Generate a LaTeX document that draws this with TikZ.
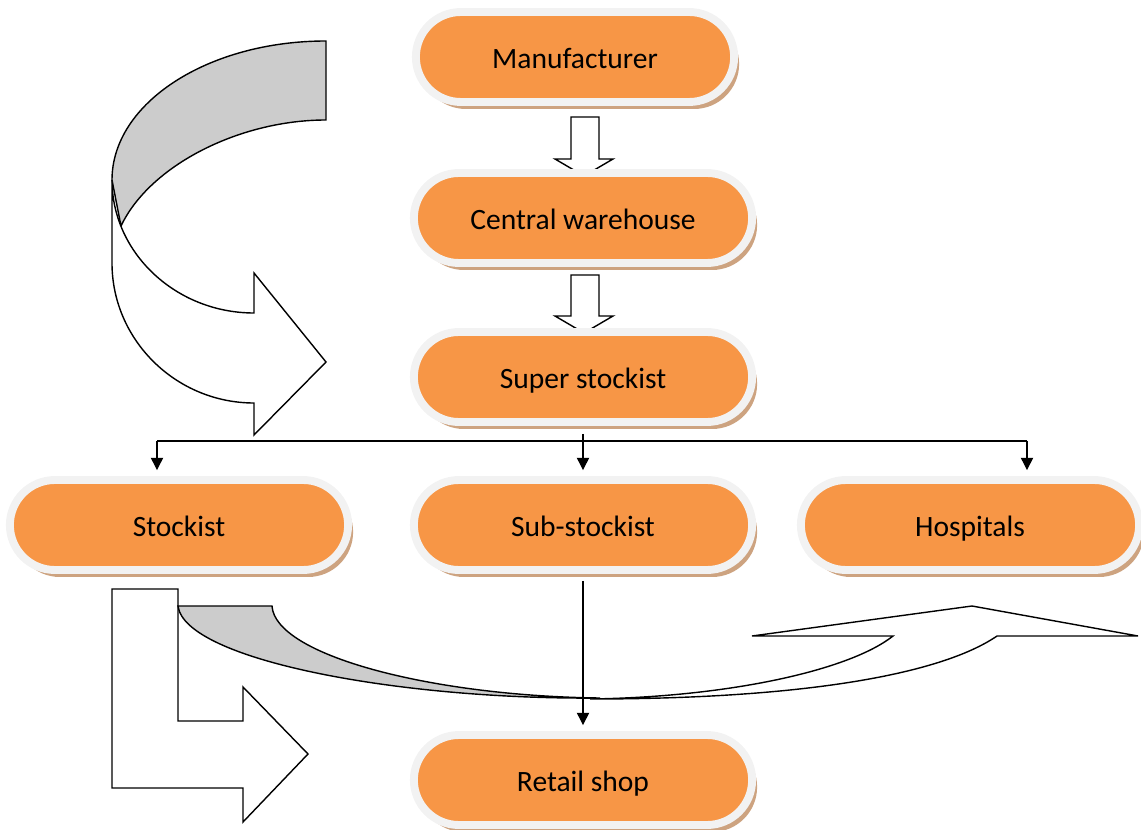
\documentclass[tikz,border=0pt]{standalone}
\usepackage{fontspec}
\setmainfont{Carlito}
\usetikzlibrary{arrows.meta,shapes.misc,shadows}

\definecolor{boxorange}{RGB}{247,150,70}
\definecolor{boxrim}{RGB}{242,242,242}
\definecolor{boxshade}{RGB}{205,163,128}
\definecolor{ribbon}{RGB}{204,204,204}

\tikzset{
  stage/.style={rounded rectangle, fill=boxorange, draw=boxrim, line width=4.5pt,
    minimum width=7.0cm, minimum height=1.8cm, text height=14pt, text depth=1pt,
    font=\fontsize{16.8}{20}\selectfont,
    drop shadow={shadow xshift=0.1cm, shadow yshift=-0.14cm, fill=boxshade, opacity=1}},
  link/.style={line width=0.7pt, shorten >=0.12cm, -{Triangle[length=7pt,width=7pt]}},
  grayband/.style={fill=ribbon, draw=black, line width=0.8pt},
  whiteband/.style={fill=white, draw=black, line width=0.8pt},
}

\begin{document}
\begin{tikzpicture}[x=0.02cm, y=-0.02cm]

    % Fix the page to the size of the reference
    \useasboundingbox (0,0) rectangle (1141,830);

    % Big folded arrow on the top left
    \path[grayband] (326,41) .. controls (208,41) and (112,103) .. (112,180)
        -- (121,226) .. controls (150,165) and (240,120) .. (326,120) -- cycle;
    \path[whiteband] (112,180) -- (112,263) .. controls (112,340) and (176,403) .. (254,403)
        -- (254,435) -- (326,362) -- (254,273) -- (254,313)
        .. controls (176,313) and (112,253) .. (112,180) -- cycle;

    % Bent arrow below the stockist
    \path[whiteband] (112,589) -- (178,589) -- (178,721) -- (243,721) -- (243,687)
        -- (308,754) -- (243,822) -- (243,788) -- (112,788) -- cycle;

    % Curved ribbon arrow towards the hospitals
    \path[grayband] (178,606) -- (272,606) .. controls (275,655) and (430,696) .. (600,698)
        .. controls (400,700) and (185,660) .. (178,606) -- cycle;
    \path[whiteband] (590,699) .. controls (800,699) and (940,675) .. (997,636)
        -- (1138,636) -- (972,606) -- (752,636) -- (893,636)
        .. controls (850,670) and (730,697) .. (590,699) -- cycle;

    % Block arrows between the top boxes
    \foreach \ya/\yb in {117/159, 275/316} {
        \path[whiteband] (571,\ya) -- (599,\ya) -- (599,\yb) -- (613,\yb)
            -- (584,\yb+17) -- (555,\yb) -- (571,\yb) -- cycle;
    }

    % Boxes
    \node[stage, minimum width=6.6cm] (manu) at (575,57) {Manufacturer};
    \node[stage] (ware) at (583,218) {Central warehouse};
    \node[stage] (super) at (583,377) {Super stockist};
    \node[stage] (stock) at (179,525) {Stockist};
    \node[stage] (sub) at (583,525) {Sub-stockist};
    \node[stage] (hosp) at (970,525) {Hospitals};
    \node[stage] (retail) at (583,780) {Retail shop};

    % Branching connectors
    \coordinate (split) at (583,441);
    \coordinate (left) at (157,441);
    \coordinate (right) at (1027,441);
    \draw[line width=0.7pt, shorten <=0.16cm] (super.south) -- (split);
    \draw[line width=0.7pt] (left) -- (right);
    \draw[link] (left) -- (left |- stock.north);
    \draw[link] (split) -- (sub.north);
    \draw[link] (right) -- (right |- hosp.north);
    \draw[link, shorten <=0.14cm] (sub.south) -- (retail.north);

\end{tikzpicture}
\end{document}
